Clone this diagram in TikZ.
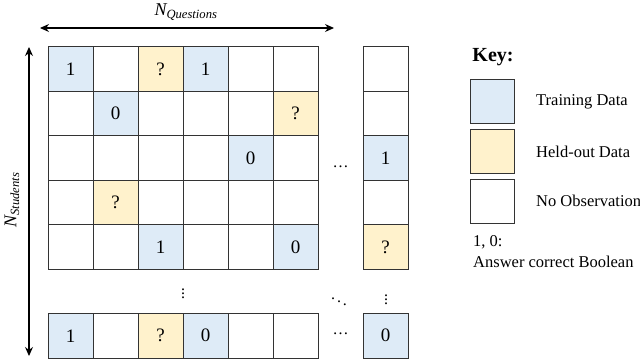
\documentclass[tikz,border=0pt]{standalone}
\usepackage{fontspec}
\setmainfont{Liberation Serif}
\usetikzlibrary{arrows.meta}

\definecolor{trainblue}{RGB}{222,235,247}
\definecolor{heldyellow}{RGB}{255,242,204}

\tikzset{
  cell/.style={draw=black!80, line width=0.9pt, minimum width=45pt, minimum height=44.5pt,
    inner sep=0pt, outer sep=0pt, font=\fontsize{19}{21}\selectfont},
  train/.style={fill=trainblue},
  held/.style={fill=heldyellow},
  noobs/.style={fill=white},
  keytext/.style={font=\fontsize{16.5}{19}\selectfont, anchor=west, inner sep=0pt},
  dotsfont/.style={font=\fontsize{16}{18}\selectfont, inner sep=0pt},
  dim/.style={{Stealth[length=9pt,width=8pt]}-{Stealth[length=9pt,width=8pt]}, line width=1.2pt},
}

\begin{document}
\begin{tikzpicture}[x=1pt,y=-1pt]
  \useasboundingbox (0,0) rectangle (640,359);

  % response matrix
  \foreach \r/\y/\cells in {
    1/69/{train/1,noobs/{},held/?,train/1,noobs/{},noobs/{},noobs/{}},
    2/113.5/{noobs/{},train/0,noobs/{},noobs/{},noobs/{},held/?,noobs/{}},
    3/158/{noobs/{},noobs/{},noobs/{},noobs/{},train/0,noobs/{},train/1},
    4/202.5/{noobs/{},held/?,noobs/{},noobs/{},noobs/{},noobs/{},noobs/{}},
    5/247/{noobs/{},noobs/{},train/1,noobs/{},noobs/{},train/0,held/?},
    6/335.75/{train/1,noobs/{},held/?,train/0,noobs/{},noobs/{},train/0}}{
    \foreach \k/\t [count=\c] in \cells {
      \pgfmathsetmacro\x{ifthenelse(\c<7,25.5+45*\c,385.5)}
      \node[cell,\k] (c\r\c) at (\x,\y) {\t};
    }
  }

  % dots
  \node[dotsfont] (hdotsA) at (340.5,167) {\dots};
  \node[dotsfont] (hdotsB) at (340.5,334) {\dots};
  \node[dotsfont] (vdotsA) at (183,291) {$\vdots$};
  \node[dotsfont] (vdotsB) at (386,297) {$\vdots$};
  \node[dotsfont] (ddots) at (339,299) {$\ddots$};

  % dimensions
  \coordinate (qL) at (40,28);
  \coordinate (qR) at (334,28);
  \draw[dim] (qL) -- (qR);
  \node (qlabel) at (186,12) {\fontsize{18}{20}\selectfont\textit{N\textsubscript{Questions}}};
  \coordinate (sT) at (29,47);
  \coordinate (sB) at (29,356);
  \draw[dim] (sT) -- (sB);
  \node[rotate=90] (slabel) at (12,200) {\fontsize{18}{20}\selectfont\textit{N\textsubscript{Students}}};

  % key
  \node[font=\bfseries\fontsize{20}{22}\selectfont] (keytitle) at (493,57) {Key:};
  \node[cell,train,minimum width=44pt,minimum height=44pt] (keyT) at (492,101) {};
  \node[cell,held,minimum width=44pt,minimum height=44pt] (keyH) at (492,151) {};
  \node[cell,noobs,minimum width=44pt,minimum height=44pt] (keyN) at (492,201) {};
  \node[keytext] (keyTtext) at (536,102) {Training Data};
  \node[keytext] (keyHtext) at (536,152) {Held-out Data};
  \node[keytext] (keyNtext) at (536,201) {No Observation};
  \node[keytext] (bool) at (473,242) {1, 0:};
  \node[keytext] (booltext) at (473,262) {Answer correct Boolean};
\end{tikzpicture}
\end{document}
